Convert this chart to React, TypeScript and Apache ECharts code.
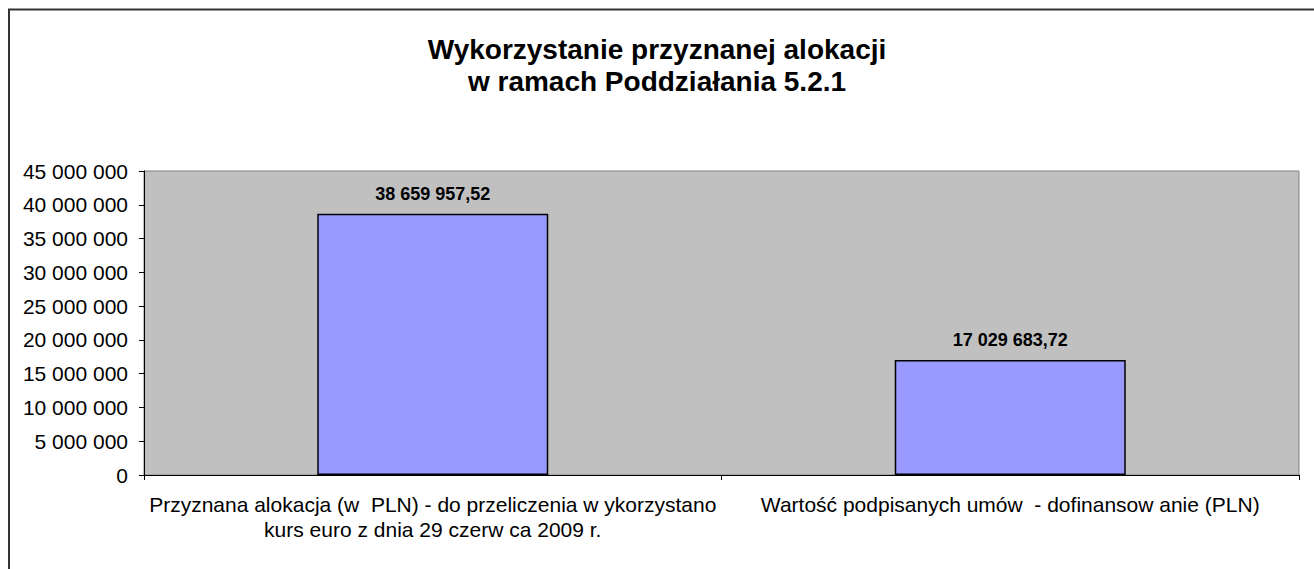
import React, { useEffect, useRef } from "react";
import * as echarts from "echarts";

const titleLines = ["Wykorzystanie przyznanej alokacji", "w ramach Poddziałania 5.2.1"];
const categories = [
  "Przyznana alokacja (w  PLN) - do przeliczenia w ykorzystano\nkurs euro z dnia 29 czerw ca 2009 r.",
  "Wartość podpisanych umów  - dofinansow anie (PLN)",
];
const values = [38659957.52, 17029683.72];
const yMin = 0;
const yMax = 45000000;
const yInterval = 5000000;

const FONT = 'Arial, "Liberation Sans", sans-serif';

function groupThousands(s: string): string {
  return s.replace(/\B(?=(\d{3})+(?!\d))/g, " ");
}
function fmtAxis(v: number): string {
  return groupThousands(String(Math.round(v)));
}
function fmtValue(v: number): string {
  const [i, d] = v.toFixed(2).split(".");
  return groupThousands(i) + "," + d;
}

export default function App() {
  const ref = useRef<HTMLDivElement>(null);
  useEffect(() => {
    if (!ref.current) return;
    const chart = echarts.init(ref.current, null, { renderer: "svg" });
    chart.setOption({
      animation: false,
      backgroundColor: "#ffffff",
      title: {
        text: titleLines.join("\n"),
        left: "center",
        top: 28,
        textStyle: {
          fontFamily: FONT,
          fontSize: 28,
          fontWeight: "bold",
          color: "#000",
          lineHeight: 32,
          align: "center",
        },
      },
      graphic: [
        {
          type: "polyline",
          shape: { points: [[9, 569], [9, 9.5], [1314, 9.5]] },
          style: { stroke: "#333", lineWidth: 2, fill: "none" },
          silent: true,
        },
      ],
      grid: {
        left: 144,
        top: 171,
        right: 15,
        bottom: 94,
        show: true,
        backgroundColor: "#c0c0c0",
        borderColor: "#808080",
        borderWidth: 1,
      },
      xAxis: {
        type: "category",
        data: categories,
        axisLine: { show: true, lineStyle: { color: "#000", width: 1 } },
        axisTick: { show: true, alignWithLabel: false, length: 5, lineStyle: { color: "#000" } },
        axisLabel: {
          interval: 0,
          margin: 17,
          fontFamily: FONT,
          fontSize: 21,
          color: "#000",
          lineHeight: 25,
          align: "center",
        },
        splitLine: { show: false },
      },
      yAxis: {
        type: "value",
        min: yMin,
        max: yMax,
        interval: yInterval,
        axisLine: { show: true, lineStyle: { color: "#000", width: 1 } },
        axisTick: { show: true, length: 5, lineStyle: { color: "#000" } },
        axisLabel: {
          margin: 16,
          fontFamily: FONT,
          fontSize: 21,
          color: "#000",
          formatter: (v: number) => fmtAxis(v),
        },
        splitLine: { show: false },
      },
      series: [
        {
          type: "bar",
          data: values,
          barWidth: "40%",
          itemStyle: { color: "#9999ff", borderColor: "#000", borderWidth: 1.5 },
          label: {
            show: true,
            position: "top",
            distance: 11,
            fontFamily: FONT,
            fontSize: 18,
            fontWeight: "bold",
            color: "#000",
            formatter: (p: any) => fmtValue(p.value),
          },
        },
      ],
    });
    return () => chart.dispose();
  }, []);
  return (
    <div
      ref={ref}
      style={{ position: "fixed", left: 0, top: 0, width: 1314, height: 569 }}
    />
  );
}
